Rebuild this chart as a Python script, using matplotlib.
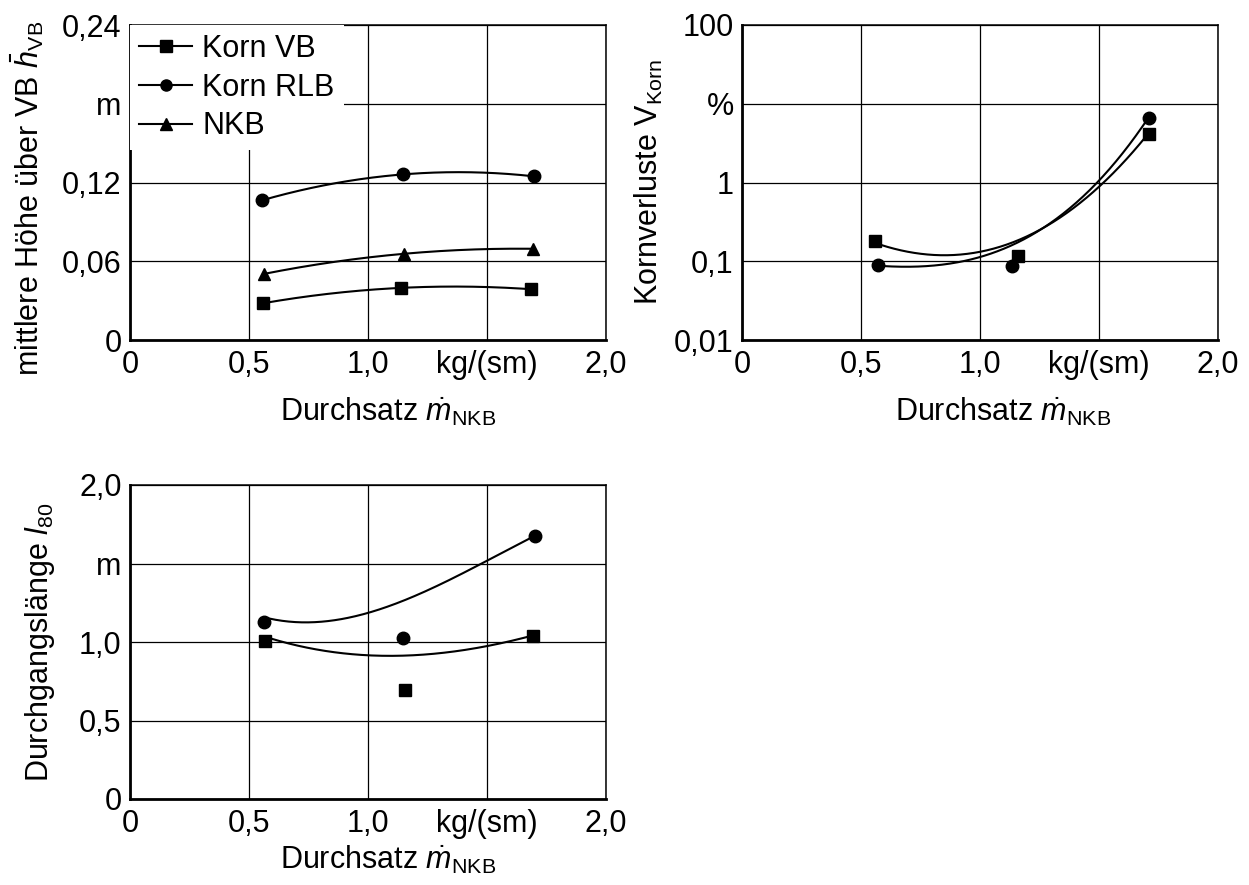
import numpy as np
import matplotlib
matplotlib.use("Agg")
import matplotlib.pyplot as plt

plt.rcParams['font.family'] = ['Liberation Sans', 'DejaVu Sans']
plt.rcParams['mathtext.fontset'] = 'custom'
plt.rcParams['mathtext.rm'] = 'Liberation Sans'
plt.rcParams['mathtext.it'] = 'Liberation Sans:italic'
plt.rcParams['mathtext.bf'] = 'Liberation Sans:bold'

# ---------------- data ----------------
# Panel 1: mittlere Höhe über VB (m)
h_x_vb = [0.559, 1.137, 1.684]
h_vb = [0.028, 0.0397, 0.0387]
h_x_rlb = [0.554, 1.149, 1.697]
h_rlb = [0.1064, 0.1262, 0.1247]
h_x_nkb = [0.564, 1.152, 1.694]
h_nkb = [0.0504, 0.0657, 0.0695]

# Panel 2: Kornverluste (%)
v_x_vb = [0.560, 1.159, 1.709]
v_vb = [0.181, 0.116, 4.14]
v_x_rlb = [0.570, 1.1355, 1.709]
v_rlb = [0.0895, 0.0869, 6.61]
# trend curve nodes
v_trend_x_vb = [0.584, 0.900, 1.082, 1.293, 1.510, 1.693]
v_trend_vb = [0.161, 0.121, 0.153, 0.289, 0.962, 3.68]
v_trend_x_rlb = [0.591, 0.998, 1.152, 1.293, 1.500, 1.693]
v_trend_rlb = [0.0869, 0.114, 0.166, 0.304, 1.06, 5.71]

# Panel 3: Durchgangslänge (m)
l_x_rlb = [0.563, 1.1475, 1.702]
l_rlb = [1.128, 1.0255, 1.674]
l_x_vb = [0.567, 1.154, 1.695]
l_vb = [1.0045, 0.692, 1.036]
l_trend_x_rlb = [0.584, 0.759, 1.000, 1.248, 1.500, 1.681]
l_trend_rlb = [1.149, 1.128, 1.182, 1.330, 1.517, 1.661]
l_trend_x_vb = [0.591, 1.001, 1.150, 1.500, 1.674]
l_trend_vb = [1.022, 0.922, 0.904, 0.979, 1.032]

x_ticks = [0, 0.5, 1.0, 1.5, 2.0]
x_ticklabels = ['0', '0,5', '1,0', 'kg/(sm)', '2,0']
h_ticks = [0, 0.06, 0.12, 0.18, 0.24]
h_ticklabels = ['0', '0,06', '0,12', 'm', '0,24']
v_ticks = [0.01, 0.1, 1, 10, 100]
v_ticklabels = ['0,01', '0,1', '1', '%', '100']
l_ticks = [0, 0.5, 1.0, 1.5, 2.0]
l_ticklabels = ['0', '0,5', '1,0', 'm', '2,0']

FS_TICK = 22
FS_LABEL = 22
LW = 1.5
MS = 9


def trend_curve(xs, ys, deg, log=False):
    xs = np.asarray(xs, float)
    ys = np.asarray(ys, float)
    yy = np.log10(ys) if log else ys
    c = np.polyfit(xs, yy, deg)
    xx = np.linspace(xs.min(), xs.max(), 200)
    out = np.polyval(c, xx)
    return xx, (10 ** out if log else out)


def style(ax, yticks, yticklabels):
    ax.set_xlim(0, 2.0)
    ax.set_xticks(x_ticks)
    ax.set_xticklabels(x_ticklabels)
    ax.set_yticks(yticks)
    ax.set_yticklabels(yticklabels)
    ax.minorticks_off()
    ax.tick_params(axis='both', which='both', length=0, labelsize=FS_TICK,
                   colors='black')
    ax.tick_params(axis='y', pad=6)
    ax.tick_params(axis='x', pad=7)
    ax.grid(True, color='black', linewidth=0.9)
    ax.set_axisbelow(True)
    for s in ['left', 'bottom']:
        ax.spines[s].set_linewidth(2.0)
    for s in ['top', 'right']:
        ax.spines[s].set_linewidth(1.1)


fig = plt.figure(figsize=(12.49, 8.85), dpi=100)
W, H = 1249.0, 885.0
ax1 = fig.add_axes([130 / W, (H - 340) / H, 476 / W, 315 / H])
ax2 = fig.add_axes([742 / W, (H - 340) / H, 476 / W, 315 / H])
ax3 = fig.add_axes([130 / W, (H - 799) / H, 476 / W, 314 / H])

# ---- Panel 1 ----
style(ax1, h_ticks, h_ticklabels)
ax1.set_ylim(0, 0.24)
for xs, ys, m, lab in [(h_x_vb, h_vb, 's', 'Korn VB'),
                       (h_x_rlb, h_rlb, 'o', 'Korn RLB'),
                       (h_x_nkb, h_nkb, '^', 'NKB')]:
    cx, cy = trend_curve(xs, ys, 2)
    ax1.plot(cx, cy, color='black', lw=LW, zorder=3)
    ax1.plot(xs, ys, linestyle='none', marker=m, color='black', ms=MS, zorder=4)
    ax1.plot([], [], color='black', lw=LW, marker=m, ms=MS - 1, label=lab)
leg = ax1.legend(loc='upper left', bbox_to_anchor=(0.0, 1.0), borderaxespad=0.0,
                 fontsize=FS_LABEL, frameon=True, fancybox=False,
                 facecolor='white', edgecolor='none', framealpha=1.0,
                 handlelength=1.73, handletextpad=0.33, labelspacing=0.28,
                 borderpad=0.3)
leg.set_zorder(10)
ax1.set_ylabel(r'mittlere Höhe über VB $\bar{h}_\mathrm{VB}$', fontsize=FS_LABEL)
ax1.yaxis.set_label_coords(-0.177, 0.449)
ax1.set_xlabel(r'Durchsatz $\dot{m}_\mathrm{NKB}$', fontsize=FS_LABEL)
ax1.xaxis.set_label_coords(0.543, -0.177)

# ---- Panel 2 ----
ax2.set_yscale('log')
style(ax2, v_ticks, v_ticklabels)
ax2.set_ylim(0.01, 100)
for tx, ty in [(v_trend_x_vb, v_trend_vb), (v_trend_x_rlb, v_trend_rlb)]:
    cx, cy = trend_curve(tx, ty, 3, log=True)
    ax2.plot(cx, cy, color='black', lw=LW, zorder=3)
ax2.plot(v_x_rlb, v_rlb, linestyle='none', marker='o', color='black', ms=MS, zorder=4)
ax2.plot(v_x_vb, v_vb, linestyle='none', marker='s', color='black', ms=MS, zorder=4)
ax2.set_ylabel(r'Kornverluste $\mathrm{V}_\mathrm{Korn}$', fontsize=FS_LABEL)
ax2.yaxis.set_label_coords(-0.162, 0.503)
ax2.set_xlabel(r'Durchsatz $\dot{m}_\mathrm{NKB}$', fontsize=FS_LABEL)
ax2.xaxis.set_label_coords(0.548, -0.177)

# ---- Panel 3 ----
style(ax3, l_ticks, l_ticklabels)
ax3.set_ylim(0, 2.0)
for tx, ty in [(l_trend_x_rlb, l_trend_rlb), (l_trend_x_vb, l_trend_vb)]:
    cx, cy = trend_curve(tx, ty, 3)
    ax3.plot(cx, cy, color='black', lw=LW, zorder=3)
ax3.plot(l_x_rlb, l_rlb, linestyle='none', marker='o', color='black', ms=MS, zorder=4)
ax3.plot(l_x_vb, l_vb, linestyle='none', marker='s', color='black', ms=MS, zorder=4)
ax3.set_ylabel(r'Durchgangslänge $l_{80}$', fontsize=FS_LABEL)
ax3.yaxis.set_label_coords(-0.154, 0.5)
ax3.set_xlabel(r'Durchsatz $\dot{m}_\mathrm{NKB}$', fontsize=FS_LABEL)
ax3.xaxis.set_label_coords(0.543, -0.142)

fig.savefig('out.png', dpi=100)
